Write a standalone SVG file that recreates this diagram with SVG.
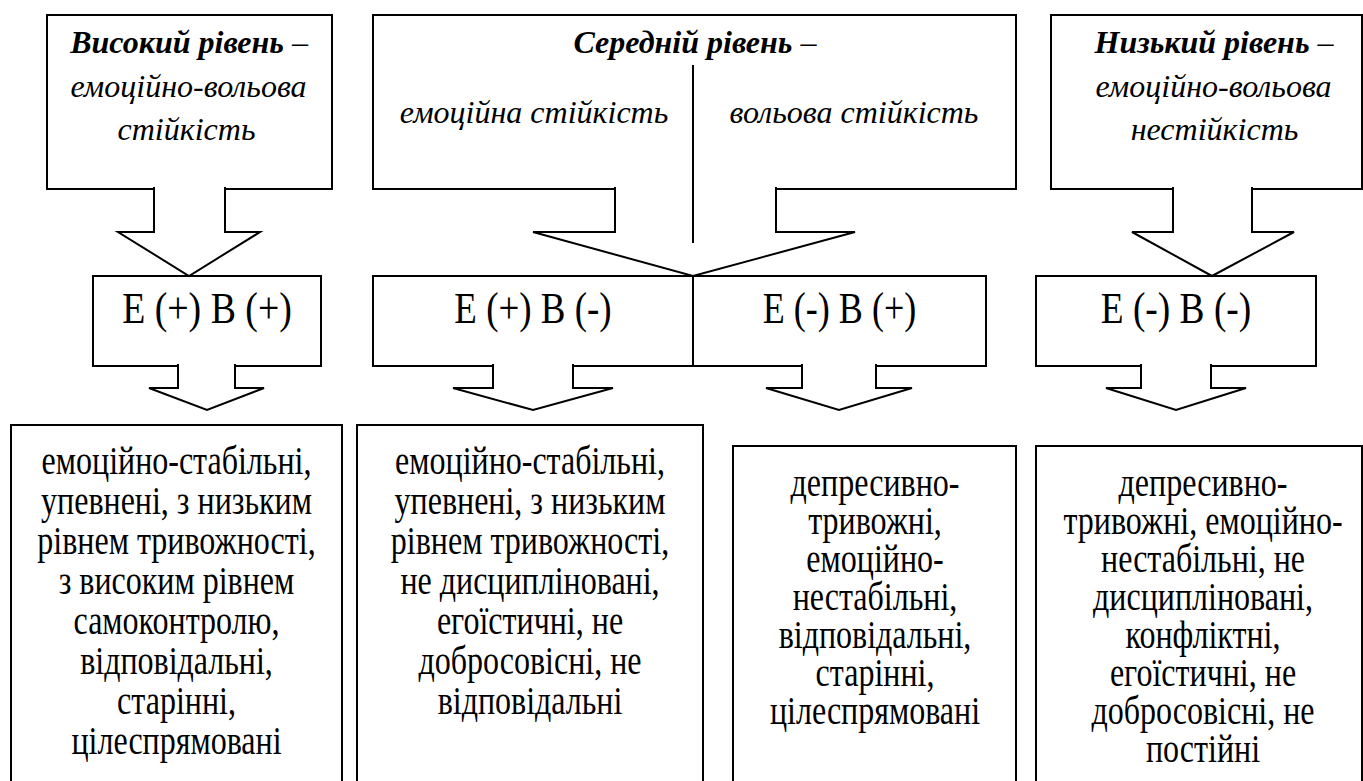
<svg xmlns="http://www.w3.org/2000/svg" width="1363" height="781" viewBox="0 0 1363 781">
<style>
.box{fill:#fff;stroke:#000;stroke-width:2}
.ln{fill:none;stroke:#000;stroke-width:2}
.arr{fill:#fff;stroke:#000;stroke-width:2;stroke-linejoin:miter}
.it{font-family:"Liberation Serif","Times New Roman",serif;font-style:italic;font-size:32px;text-anchor:middle;fill:#000}
.b{font-weight:bold}
.e{font-family:"Liberation Serif","Times New Roman",serif;font-size:44px;text-anchor:middle;fill:#000}
.t{font-family:"Liberation Serif","Times New Roman",serif;font-size:40px;text-anchor:middle;fill:#000}
</style>
<rect width="1363" height="781" fill="#fff"/>

<g id="top-high">
<rect class="box" x="47" y="15" width="285" height="174"/>
<text class="it" x="189" y="53"><tspan class="b">Високий рівень</tspan> –</text>
<text class="it" x="188.5" y="97">емоційно-вольова</text>
<text class="it" x="186.5" y="140">стійкість</text>
</g>

<g id="top-medium">
<rect class="box" x="373" y="15" width="643" height="174"/>
<text class="it" x="695" y="53"><tspan class="b">Середній рівень</tspan> –</text>
<text class="it" x="534" y="123">емоційна стійкість</text>
<text class="it" x="854" y="123">вольова стійкість</text>
</g>

<g id="top-low">
<rect class="box" x="1051" y="15" width="311" height="174"/>
<text class="it" x="1214" y="53"><tspan class="b">Низький рівень</tspan> –</text>
<text class="it" x="1213.5" y="97">емоційно-вольова</text>
<text class="it" x="1214.5" y="140">нестійкість</text>
</g>

<g id="e1">
<rect class="box" x="93" y="276" width="228" height="90"/>
<text class="e" transform="translate(207,323) scale(0.86,1)">Е (+) В (+)</text>
</g>

<g id="e2">
<rect class="box" x="373" y="276" width="320" height="90"/>
<text class="e" transform="translate(533,323) scale(0.84,1)">Е (+) В (-)</text>
</g>

<g id="e3">
<rect class="box" x="693" y="276" width="293" height="90"/>
<text class="e" transform="translate(839.5,323) scale(0.82,1)">Е (-) В (+)</text>
</g>

<g id="e4">
<rect class="box" x="1036" y="276" width="280" height="90"/>
<text class="e" transform="translate(1176,323) scale(0.85,1)">Е (-) В (-)</text>
</g>

<g id="out1">
<rect class="box" x="11" y="425" width="331" height="380"/>
<text class="t" transform="translate(176.5,474) scale(0.8,1)">емоційно-стабільні,</text>
<text class="t" transform="translate(176.5,514) scale(0.8,1)">упевнені, з низьким</text>
<text class="t" transform="translate(176.5,554) scale(0.8,1)">рівнем тривожності,</text>
<text class="t" transform="translate(176.5,594) scale(0.8,1)">з високим рівнем</text>
<text class="t" transform="translate(176.5,634) scale(0.8,1)">самоконтролю,</text>
<text class="t" transform="translate(176.5,674) scale(0.8,1)">відповідальні,</text>
<text class="t" transform="translate(176.5,714) scale(0.8,1)">старінні,</text>
<text class="t" transform="translate(176.5,754) scale(0.8,1)">цілеспрямовані</text>
</g>

<g id="out2">
<rect class="box" x="357" y="425" width="346" height="380"/>
<text class="t" transform="translate(530,474) scale(0.8,1)">емоційно-стабільні,</text>
<text class="t" transform="translate(530,514) scale(0.8,1)">упевнені, з низьким</text>
<text class="t" transform="translate(530,554) scale(0.8,1)">рівнем тривожності,</text>
<text class="t" transform="translate(530,594) scale(0.8,1)">не дисципліновані,</text>
<text class="t" transform="translate(530,634) scale(0.8,1)">егоїстичні, не</text>
<text class="t" transform="translate(530,674) scale(0.8,1)">добросовісні, не</text>
<text class="t" transform="translate(530,714) scale(0.8,1)">відповідальні</text>
</g>

<g id="out3">
<rect class="box" x="733" y="446" width="283" height="360"/>
<text class="t" transform="translate(875,496) scale(0.8,1)">депресивно-</text>
<text class="t" transform="translate(875,534) scale(0.8,1)">тривожні,</text>
<text class="t" transform="translate(875,572) scale(0.8,1)">емоційно-</text>
<text class="t" transform="translate(875,610) scale(0.8,1)">нестабільні,</text>
<text class="t" transform="translate(875,648) scale(0.8,1)">відповідальні,</text>
<text class="t" transform="translate(875,686) scale(0.8,1)">старінні,</text>
<text class="t" transform="translate(875,724) scale(0.8,1)">цілеспрямовані</text>
</g>

<g id="out4">
<rect class="box" x="1036" y="446" width="326" height="360"/>
<text class="t" transform="translate(1203,496) scale(0.8,1)">депресивно-</text>
<text class="t" transform="translate(1203,534) scale(0.8,1)">тривожні, емоційно-</text>
<text class="t" transform="translate(1203,572) scale(0.8,1)">нестабільні, не</text>
<text class="t" transform="translate(1203,610) scale(0.8,1)">дисципліновані,</text>
<text class="t" transform="translate(1203,648) scale(0.8,1)">конфліктні,</text>
<text class="t" transform="translate(1203,686) scale(0.8,1)">егоїстичні, не</text>
<text class="t" transform="translate(1203,724) scale(0.8,1)">добросовісні, не</text>
<text class="t" transform="translate(1203,762) scale(0.8,1)">постійні</text>
</g>

<g id="connectors">
<path class="arr" d="M154,187 V232 H118 L189,276 L260,232 H225 V187"/>
<path class="arr" d="M615,187 V232 H533 L693,276 L855,232 H776 V187"/>
<line class="ln" x1="693" y1="65" x2="693" y2="243"/>
<path class="arr" d="M1173,187 V232 H1132 L1212,276 L1294,232 H1252 V187"/>
<path class="arr" d="M178,364 V388 H149 L207,410 L264,388 H235 V364"/>
<path class="arr" d="M493,364 V388 H453 L533,410 L613,388 H573 V364"/>
<path class="arr" d="M802,364 V388 H766 L839,410 L912,388 H876 V364"/>
<path class="arr" d="M1141,364 V388 H1106 L1176,410 L1246,388 H1211 V364"/>
</g>
</svg>
